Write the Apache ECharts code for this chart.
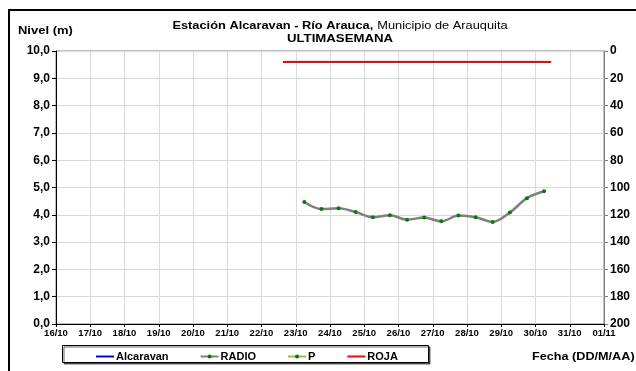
<!DOCTYPE html>
<html>
<head>
<meta charset="utf-8">
<script src="https://cdn.jsdelivr.net/npm/echarts@6/dist/echarts.min.js"></script>
<style>
  html, body { margin: 0; padding: 0; background: #fff; }
  #chart { width: 636px; height: 371px; }
</style>
</head>
<body>
<div id="chart"></div>
<script>
// Water level readings, station Alcaravan (río Arauca)
const radioTimes = [
  '2023-10-23 06:00', '2023-10-23 18:00', '2023-10-24 06:00', '2023-10-24 18:00',
  '2023-10-25 06:00', '2023-10-25 18:00', '2023-10-26 06:00', '2023-10-26 18:00',
  '2023-10-27 06:00', '2023-10-27 18:00', '2023-10-28 06:00', '2023-10-28 18:00',
  '2023-10-29 06:00', '2023-10-29 18:00', '2023-10-30 06:00'
];
const radioLevels = [4.47, 4.21, 4.24, 4.10, 3.91, 3.98, 3.82, 3.90, 3.76, 3.97, 3.91, 3.74, 4.08, 4.61, 4.86];

// Red alert threshold
const rojaTimes = ['2023-10-22 15:00', '2023-10-30 11:00'];
const rojaLevel = 9.6;

// Empty series kept for the legend
const alcaravanLevels = [];
const pLevels = [];

// Axis ranges
const dateStart = '2023-10-16 00:00';
const dateEnd = '2023-11-01 00:00';
const levelMin = 0, levelMax = 10, levelStep = 1;
const rainMin = 0, rainMax = 200, rainStep = 20;

const DAY = 86400000;
function ts(s) {
  const [d, t] = s.split(' ');
  const [Y, M, D] = d.split('-').map(Number);
  const [h, m] = t.split(':').map(Number);
  return Date.UTC(Y, M - 1, D, h, m);
}
function ddmm(v) {
  const d = new Date(v);
  const dd = String(d.getUTCDate()).padStart(2, '0');
  const mm = String(d.getUTCMonth() + 1).padStart(2, '0');
  return dd + '/' + mm;
}

const FONT = '"Liberation Sans", Arial, sans-serif';
const chart = echarts.init(document.getElementById('chart'), null, { renderer: 'canvas' });

chart.setOption({
  animation: false,
  backgroundColor: '#fff',
  grid: { left: 56, right: 32, top: 51, bottom: 47, show: true, borderColor: '#808080', borderWidth: 1 },
  xAxis: {
    type: 'value',
    min: ts(dateStart), max: ts(dateEnd), interval: DAY,
    axisLine: { show: true, lineStyle: { color: '#000', width: 1 } },
    axisTick: { show: true, inside: false, length: 3, lineStyle: { color: '#000' } },
    axisLabel: { formatter: ddmm, fontFamily: FONT, fontWeight: 'bold', fontSize: 9.5, color: '#000', margin: 4 },
    splitLine: { show: true, lineStyle: { color: '#d9d9d9', width: 1 } }
  },
  yAxis: [
    {
      type: 'value', min: levelMin, max: levelMax, interval: levelStep,
      axisLine: { show: true, lineStyle: { color: '#000', width: 1 } },
      axisTick: { show: true, length: 4, lineStyle: { color: '#000' } },
      axisLabel: {
        formatter: v => v.toFixed(1).replace('.', ','),
        fontFamily: FONT, fontWeight: 'bold', fontSize: 12, color: '#000', margin: 6
      },
      splitLine: { show: true, lineStyle: { color: '#d9d9d9', width: 1 } }
    },
    {
      type: 'value', min: rainMin, max: rainMax, interval: rainStep, inverse: true, position: 'right',
      axisLine: { show: true, lineStyle: { color: '#808080', width: 1 } },
      axisTick: { show: true, length: 4, lineStyle: { color: '#808080' } },
      axisLabel: { fontFamily: FONT, fontWeight: 'bold', fontSize: 12, color: '#000', margin: 6 },
      splitLine: { show: false }
    }
  ],
  legend: {
    left: 95, top: 351, padding: 0, itemWidth: 18, itemHeight: 5, itemGap: 31,
    textStyle: { fontFamily: FONT, fontWeight: 'bold', fontSize: 11, color: '#000', padding: [0, 0, 0, -3] },
    data: [
      { name: 'Alcaravan', itemStyle: { opacity: 0 } },
      { name: 'RADIO' },
      { name: 'P' },
      { name: 'ROJA', itemStyle: { opacity: 0 } }
    ]
  },
  graphic: [
    {
      type: 'rect', z: -10,
      shape: { x: 9, y: 10, width: 700, height: 420 },
      style: { fill: 'none', stroke: '#000', lineWidth: 2 }
    },
    {
      type: 'rect', z: 1,
      shape: { x: 62.5, y: 345.5, width: 366, height: 17 },
      style: { fill: '#fff', stroke: '#000', lineWidth: 1, shadowColor: 'rgba(0,0,0,0.6)', shadowOffsetX: 1.5, shadowOffsetY: 1.5, shadowBlur: 0 }
    },
    {
      type: 'text', x: 18, y: 31, scaleX: 1.18,
      style: { text: 'Nivel (m)', fontFamily: FONT, fontWeight: 'bold', fontSize: 11, fill: '#000', verticalAlign: 'middle' }
    },
    {
      type: 'text', x: 340, y: 26, scaleX: 1.22,
      style: {
        text: '{b|Estación Alcaravan - Río Arauca,} {n|Municipio de Arauquita}',
        align: 'center', verticalAlign: 'middle',
        rich: {
          b: { fontFamily: FONT, fontWeight: 'bold', fontSize: 10.5, fill: '#000' },
          n: { fontFamily: FONT, fontWeight: 'normal', fontSize: 10.5, fill: '#000' }
        }
      }
    },
    {
      type: 'text', x: 340, y: 39, scaleX: 1.2,
      style: { text: 'ULTIMASEMANA', fontFamily: FONT, fontWeight: 'bold', fontSize: 11, fill: '#000', align: 'center', verticalAlign: 'middle' }
    },
    {
      type: 'text', x: 532, y: 357, scaleX: 1.15,
      style: { text: 'Fecha (DD/M/AA)', fontFamily: FONT, fontWeight: 'bold', fontSize: 11, fill: '#000', verticalAlign: 'middle' }
    }
  ],
  series: [
    {
      name: 'Alcaravan', type: 'line', yAxisIndex: 0, symbol: 'none',
      lineStyle: { color: '#0000ff', width: 2.5 }, itemStyle: { color: '#0000ff' },
      data: alcaravanLevels
    },
    {
      name: 'RADIO', type: 'line', yAxisIndex: 0, smooth: 0.35,
      symbol: 'circle', symbolSize: 4,
      lineStyle: { color: '#808080', width: 2.5 },
      itemStyle: { color: '#008000' },
      data: radioTimes.map((t, i) => [ts(t), radioLevels[i]])
    },
    {
      name: 'P', type: 'line', yAxisIndex: 0,
      symbol: 'circle', symbolSize: 4,
      lineStyle: { color: '#9bbb59', width: 2.5 },
      itemStyle: { color: '#008000' },
      data: pLevels
    },
    {
      name: 'ROJA', type: 'line', yAxisIndex: 0, symbol: 'none',
      lineStyle: { color: '#ff0000', width: 2 }, itemStyle: { color: '#ff0000' },
      data: rojaTimes.map(t => [ts(t), rojaLevel])
    }
  ]
});
</script>
</body>
</html>
